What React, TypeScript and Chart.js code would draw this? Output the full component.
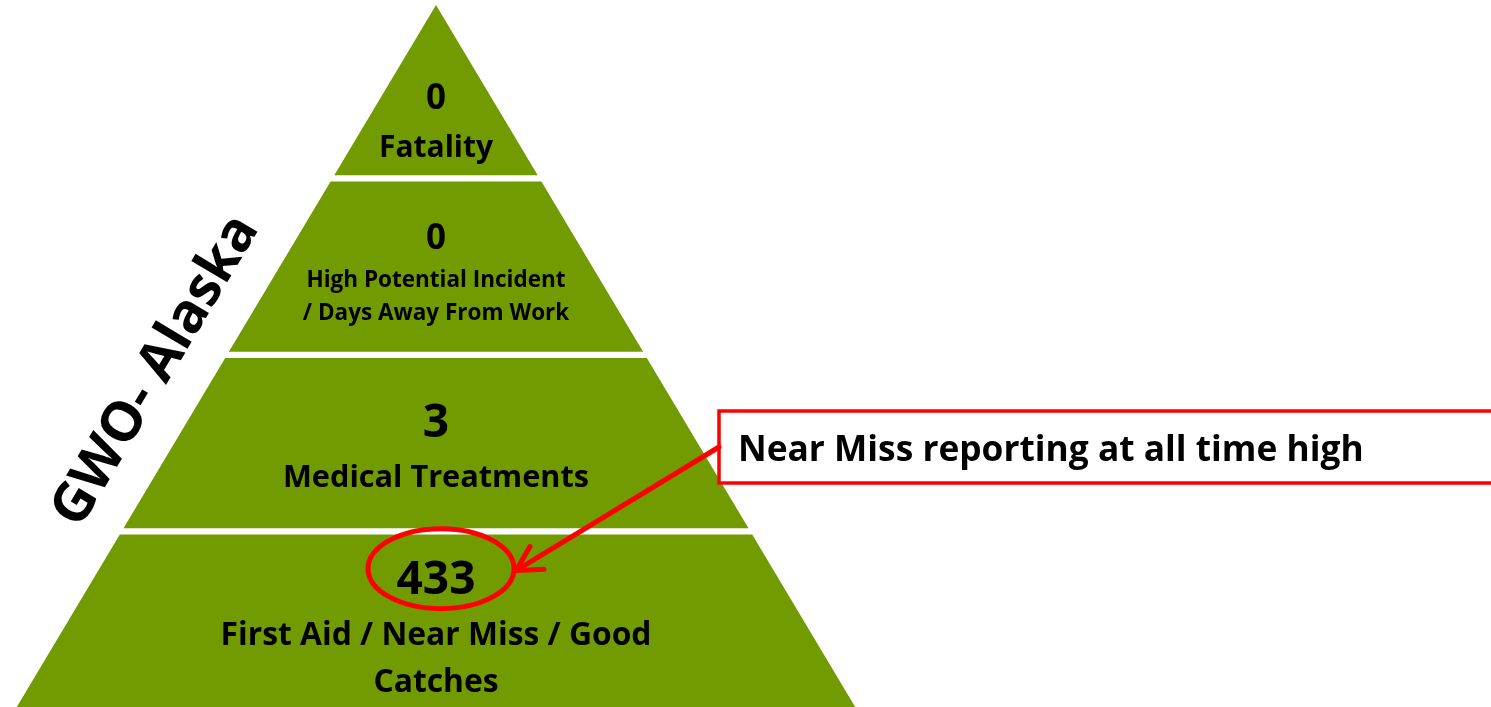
import { useEffect, useRef } from 'react';
import { Chart, registerables } from 'chart.js';

Chart.register(...registerables);

// ---- data ----
const tierLabels = [
  'Fatality',
  'High Potential Incident\n/ Days Away From Work',
  'Medical Treatments',
  'First Aid / Near Miss / Good\nCatches',
];
const tierCounts = [0, 0, 3, 433];
const sideTitle = 'GWO- Alaska';
const calloutText = 'Near Miss reporting at all time high';
const highlightTier = 3;

// ---- styling / layout ----
const GREEN = '#719b00';
const RED = '#ff0000';
const FONT = '"Open Sans", Lato, sans-serif';
const GAP = 0.035; // white gap between tiers, in tier units
const PX_PER_TIER = 176.5;
const TOP_PX = 5;
const APEX_PX = 436;
const BASE_HALF_PX = 421.6;
const W = 1491;
const H = 707;
const TEXT_DY = 2.5;

// per-tier text layout (fraction inside tier, font sizes)
const countPos = [0.52, 0.31, 0.36, 0.25];
const countSize = [35, 35, 46, 46];
const labelPos = [0.8, 0.547, 0.67, 0.56];
const labelSize = [30, 22.5, 30.7, 31.8];
const labelLineH = [0, 0.187, 0, 0.266];

const nTiers = tierLabels.length;

function tierPolygon(i: number) {
  const top = i;
  const bottom = i === nTiers - 1 ? nTiers : i + 1 - GAP;
  const half = (v: number) => v / nTiers;
  return [
    { x: -half(top), y: top },
    { x: half(top), y: top },
    { x: half(bottom), y: bottom },
    { x: -half(bottom), y: bottom },
    { x: -half(top), y: top },
  ];
}

const textPlugin = {
  id: 'pyramidText',
  afterDatasetsDraw(chart: any) {
    const ctx = chart.ctx as CanvasRenderingContext2D;
    const xs = chart.scales.x;
    const ys = chart.scales.y;
    const cx = xs.getPixelForValue(0);
    ctx.save();
    ctx.fillStyle = '#000';
    ctx.textAlign = 'center';
    ctx.textBaseline = 'middle';
    tierLabels.forEach((label, i) => {
      ctx.font = `bold ${countSize[i]}px ${FONT}`;
      ctx.fillText(String(tierCounts[i]), cx, ys.getPixelForValue(i + countPos[i]) + TEXT_DY);
      ctx.font = `bold ${labelSize[i]}px ${FONT}`;
      label.split('\n').forEach((line, k) => {
        ctx.fillText(line, cx, ys.getPixelForValue(i + labelPos[i] + k * labelLineH[i]) + TEXT_DY);
      });
    });

    // side title, parallel to the left edge of the pyramid
    const p0x = xs.getPixelForValue(0);
    const p0y = ys.getPixelForValue(0);
    const p1x = xs.getPixelForValue(-1);
    const p1y = ys.getPixelForValue(nTiers);
    const ang = Math.atan2(p0y - p1y, p0x - p1x);
    ctx.save();
    ctx.translate(156, 371);
    ctx.rotate(ang);
    ctx.font = `bold 55px ${FONT}`;
    ctx.fillText(sideTitle, 0, 0);
    ctx.restore();

    // highlight ellipse around the count of the highlighted tier
    const ecx = cx + 5;
    const ecy = ys.getPixelForValue(highlightTier + countPos[highlightTier]) - 10;
    const rx = 73;
    const ry = 40;
    ctx.strokeStyle = RED;
    ctx.lineWidth = 5;
    ctx.beginPath();
    ctx.ellipse(ecx, ecy, rx, ry, 0, 0, Math.PI * 2);
    ctx.stroke();

    // callout box
    const bx = 719;
    const by = 411;
    const bh = 72;
    ctx.fillStyle = '#fff';
    ctx.fillRect(bx, by, W - bx + 10, bh);
    ctx.lineWidth = 3.5;
    ctx.strokeRect(bx, by, W - bx + 10, bh);
    ctx.fillStyle = '#000';
    ctx.textAlign = 'left';
    ctx.font = `bold 35.3px ${FONT}`;
    ctx.fillText(calloutText, 738, by + bh / 2 + 1 + TEXT_DY);

    // arrow from box to ellipse
    const tipX = ecx + rx + 2;
    const tipY = ecy + 2;
    const sx = bx;
    const sy = by + bh / 2;
    ctx.lineWidth = 5;
    ctx.lineCap = 'round';
    ctx.beginPath();
    ctx.moveTo(sx, sy);
    ctx.lineTo(tipX, tipY);
    const a = Math.atan2(sy - tipY, sx - tipX);
    const L = 28;
    const spread = 0.5;
    ctx.moveTo(tipX + L * Math.cos(a - spread), tipY + L * Math.sin(a - spread));
    ctx.lineTo(tipX, tipY);
    ctx.lineTo(tipX + L * Math.cos(a + spread), tipY + L * Math.sin(a + spread));
    ctx.stroke();
    ctx.restore();
  },
};

export default function App() {
  const ref = useRef<HTMLCanvasElement | null>(null);
  useEffect(() => {
    document.body.style.margin = '0';
    if (!ref.current) return;
    const chart = new Chart(ref.current, {
      type: 'scatter',
      data: {
        datasets: tierLabels.map((_, i) => ({
          label: tierLabels[i],
          data: tierPolygon(i),
          showLine: true,
          fill: 'shape',
          backgroundColor: GREEN,
          borderColor: GREEN,
          borderWidth: 0,
          pointRadius: 0,
          tension: 0,
        })),
      },
      options: {
        animation: false,
        responsive: false,
        layout: { padding: 0 },
        plugins: { legend: { display: false }, tooltip: { enabled: false } },
        scales: {
          x: {
            type: 'linear',
            display: false,
            min: -APEX_PX / BASE_HALF_PX,
            max: (W - APEX_PX) / BASE_HALF_PX,
          },
          y: {
            type: 'linear',
            display: false,
            reverse: true,
            min: -TOP_PX / PX_PER_TIER,
            max: (H - TOP_PX) / PX_PER_TIER,
          },
        },
      },
      plugins: [textPlugin],
    } as any);
    return () => chart.destroy();
  }, []);
  return (
    <div style={{ position: 'fixed', left: 0, top: 0, width: W, height: H, background: '#fff' }}>
      <canvas ref={ref} width={W} height={H} style={{ width: W, height: H, display: 'block' }} />
    </div>
  );
}
